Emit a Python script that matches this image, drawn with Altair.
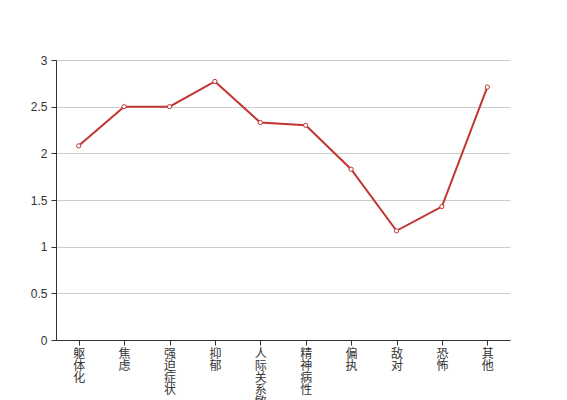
import altair as alt
import pandas as pd

categories = ["躯体化", "焦虑", "强迫症状", "抑郁", "人际关系敏感", "精神病性", "偏执", "敌对", "恐怖", "其他"]
values = [2.08, 2.5, 2.5, 2.77, 2.33, 2.3, 1.83, 1.17, 1.43, 2.71]

df = pd.DataFrame({"cat": categories, "val": values})

x = alt.X("cat:N", sort=categories, title=None,
          scale=alt.Scale(paddingInner=0, paddingOuter=0),
          axis=alt.Axis(labelAngle=0, labelExpr="split(datum.label, '')",
                        labelBaseline="top", labelAlign="center",
                        labelFont="Noto Sans CJK SC", labelFontSize=12,
                        labelLineHeight=12, labelColor="#333", labelPadding=3,
                        tickColor="#333", tickSize=5, domainColor="#333",
                        grid=False, bandPosition=0))
y = alt.Y("val:Q", title=None,
          scale=alt.Scale(domain=[0, 3], nice=False),
          axis=alt.Axis(values=[0, 0.5, 1, 1.5, 2, 2.5, 3], tickCount=7,
                        labelFont="Liberation Sans", labelFontSize=12,
                        labelColor="#333", tickColor="#333", tickSize=5,
                        domainColor="#333", gridColor="#ccc", labelPadding=4,
                        labelExpr="datum.value"))

line = alt.Chart(df).mark_line(color="#c23531", strokeWidth=2).encode(x=x, y=y)
pts = alt.Chart(df).mark_point(shape="circle", filled=True, fill="white",
                               stroke="#c23531", strokeWidth=1, size=18, opacity=1).encode(x=x, y=y)

chart = (line + pts).properties(
    width=454, height=280,
    autosize=alt.AutoSizeParams(type="none"),
    padding={"left": 48, "top": 52, "right": 49, "bottom": 60},
).configure_view(stroke=None)

chart.save("out.html", embed_options={"renderer": "svg", "actions": False})
